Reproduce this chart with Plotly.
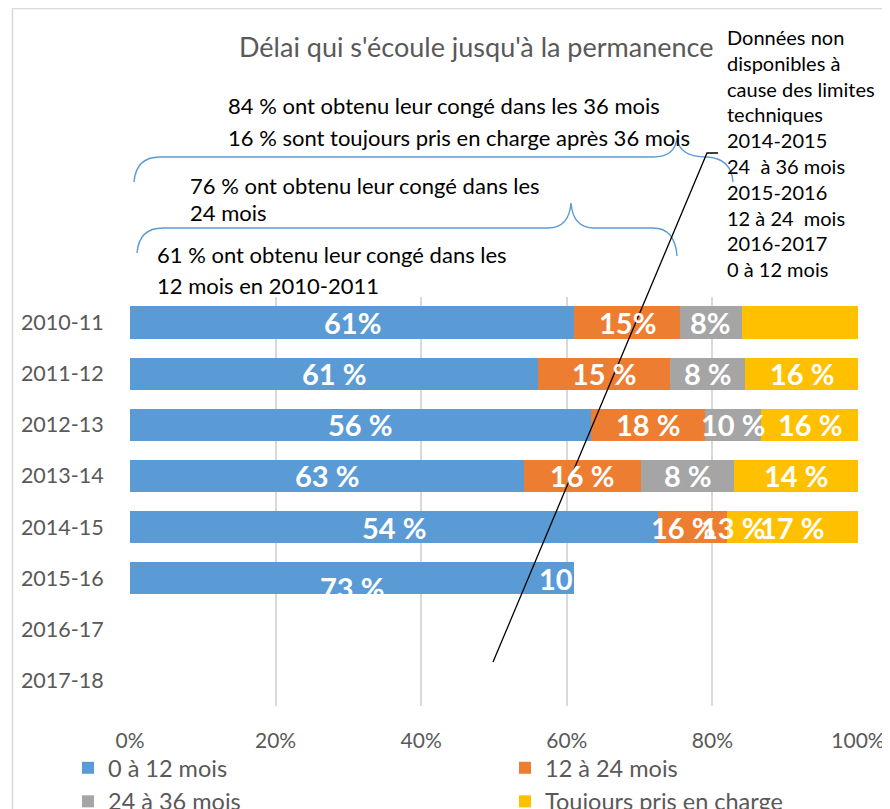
import plotly.graph_objects as go

# ---------------- data ----------------
categories = ["2010-11", "2011-12", "2012-13", "2013-14", "2014-15", "2015-16", "2016-17", "2017-18"]
series_names = ["0 à 12 mois", "12 à 24 mois", "24 à 36 mois", "Toujours pris en charge"]
v_0_12 = [61.0, 56.0, 63.3, 54.1, 72.5, 61.0, 0, 0]
v_12_24 = [14.6, 18.2, 15.7, 16.1, 9.5, 0, 0, 0]
v_24_36 = [8.4, 10.3, 7.7, 12.8, 0, 0, 0, 0]
v_toujours = [16.0, 15.5, 13.3, 17.0, 18.0, 0, 0, 0]
# data labels exactly as printed on the chart
lab_0_12 = ["61%", "61 %", "56 %", "63 %", "54 %", "73 %", "", ""]
lab_12_24 = ["15%", "15 %", "18 %", "16 %", "16 %", "10", "", ""]
lab_24_36 = ["8%", "8 %", "10 %", "8 %", "13 %", "", "", ""]
lab_toujours = ["", "16 %", "16 %", "14 %", "17 %", "", "", ""]
x_ticks = [0, 20, 40, 60, 80, 100]
x_ticktext = ["0%", "20%", "40%", "60%", "80%", "100%"]

colors = ["#5B9BD5", "#ED7D31", "#A5A5A5", "#FFC000"]
FONT = "Lato"
GRAY = "#595959"

# page geometry (the html body adds an 8 px offset)
OFF = 8
PAGE_W, PAGE_H = 890, 809
W, H = PAGE_W - OFF, PAGE_H - OFF
PLOT_L, PLOT_R, PLOT_T, PLOT_B = 130, 858, 297, 706   # plot area in page pixels
L, T = PLOT_L - OFF, PLOT_T - OFF
R, B = PAGE_W - PLOT_R, PAGE_H - PLOT_B
PW, PH = PLOT_R - PLOT_L, PLOT_B - PLOT_T


def px2x(px):
    return (px - PLOT_L) / PW


def px2y(py):
    return (PLOT_B - py) / PH


def P(x, y):
    return f"{px2x(x):.5f},{px2y(y):.5f}"


series = [v_0_12, v_12_24, v_24_36, v_toujours]
labels = [lab_0_12, lab_12_24, lab_24_36, lab_toujours]

fig = go.Figure()
for i, (name, vals) in enumerate(zip(series_names, series)):
    fig.add_trace(go.Bar(
        y=categories, x=vals, name=name, orientation="h",
        marker=dict(color=colors[i], line=dict(width=0)),
        legend="legend" if i % 2 == 0 else "legend2",
        hoverinfo="skip",
    ))

annotations = []
# data labels, centred on each segment
for r, cat in enumerate(categories):
    start = 0.0
    for s in range(4):
        val = series[s][r]
        txt = labels[s][r]
        if txt:
            a = dict(x=start + val / 2, y=r, xref="x", yref="y", text="<b>" + txt + "</b>",
                     showarrow=False, font=dict(family=FONT, size=29, color="white"),
                     xanchor="center", yanchor="middle")
            if cat == "2015-16" and s == 0:
                a["yshift"] = -9
            if cat == "2015-16" and s == 1:
                a["x"] = start
                a["xanchor"] = "right"
                a["xshift"] = 1
            if cat == "2014-15" and s == 1:
                a["xshift"] = -9
            if cat == "2014-15" and s == 2:
                a["xshift"] = 6
            annotations.append(a)
        start += val

# title
annotations.append(dict(x=px2x(476), y=px2y(47), xref="paper", yref="paper",
                        text="Délai qui s'écoule jusqu'à la permanence", showarrow=False,
                        font=dict(family=FONT, size=27, color=GRAY), xanchor="center", yanchor="middle"))

left_texts = [
    ("84 % ont obtenu leur congé dans les 36 mois", 226, 105),
    ("16 % sont toujours pris en charge après 36 mois", 226, 137),
    ("76 % ont obtenu leur congé dans les", 188, 186),
    ("24 mois", 188, 213),
    ("61 % ont obtenu leur congé dans les", 155, 254),
    ("12 mois en 2010-2011", 155, 285),
]
for txt, x, y in left_texts:
    annotations.append(dict(x=px2x(x), y=px2y(y), xref="paper", yref="paper", text=txt,
                            showarrow=False, font=dict(family=FONT, size=22, color="black"),
                            xanchor="left", yanchor="middle"))

box_lines = ["Données non", "disponibles à", "cause des limites", "techniques", "2014-2015",
             "24  à 36 mois", "2015-2016", "12 à 24  mois", "2016-2017", "0 à 12 mois"]
for k, txt in enumerate(box_lines):
    annotations.append(dict(x=px2x(725), y=px2y(37 + k * 25.8), xref="paper", yref="paper",
                            text=txt.replace("  ", "&nbsp; "), showarrow=False,
                            font=dict(family=FONT, size=20, color="black"),
                            xanchor="left", yanchor="middle"))

shapes = []
# chart area border
shapes.append(dict(type="rect", xref="paper", yref="paper", x0=px2x(12.5), y0=px2y(8.5),
                   x1=px2x(1000), y1=px2y(1000), line=dict(color="#D9D9D9", width=1.5),
                   fillcolor="rgba(0,0,0,0)", layer="below"))
# braces
brace1 = (f"M{P(134,182)} Q{P(136,157)} {P(160,157)} L{P(653,157)} Q{P(675,157)} {P(677,138)} "
          f"Q{P(679,157)} {P(707,157)} Q{P(731,158)} {P(733,182)}")
brace2 = (f"M{P(137,253)} Q{P(139,228)} {P(163,228)} L{P(548,228)} Q{P(569,228)} {P(571,203)} "
          f"Q{P(573,228)} {P(594,228)} L{P(653,228)} Q{P(675,228)} {P(677,256)}")
for pth in (brace1, brace2):
    shapes.append(dict(type="path", path=pth, xref="paper", yref="paper",
                       line=dict(color="#5B9BD5", width=1.4)))
# pointer line
shapes.append(dict(type="path", path=f"M{P(493,662)} L{P(707,153)} L{P(718,153)}",
                   xref="paper", yref="paper", line=dict(color="black", width=1.3)))

fig.update_layout(
    width=W, height=H,
    margin=dict(l=L, r=R, t=T, b=B, pad=0, autoexpand=False),
    barmode="stack", bargap=0.37,
    plot_bgcolor="white", paper_bgcolor="white",
    font=dict(family=FONT, color=GRAY),
    xaxis=dict(type="linear", range=[0, 100], tickmode="array", tickvals=x_ticks, ticktext=x_ticktext,
               showgrid=True, gridcolor="#D9D9D9", gridwidth=1.5, zeroline=False, showline=False,
               tickfont=dict(family=FONT, size=21, color=GRAY), ticks="outside", ticklen=16,
               tickcolor="rgba(0,0,0,0)", fixedrange=True),
    yaxis=dict(type="category", categoryorder="array", categoryarray=categories, range=[7.5, -0.5],
               showgrid=False, zeroline=False, showline=False, ticks="outside", ticklen=21,
               tickcolor="rgba(0,0,0,0)",
               tickfont=dict(family=FONT, size=21.5, color=GRAY)),
    legend=dict(x=px2x(68), y=px2y(746), xanchor="left", yanchor="top", orientation="v",
                traceorder="normal", font=dict(family=FONT, size=23.5, color=GRAY),
                bgcolor="rgba(0,0,0,0)", tracegroupgap=0),
    legend2=dict(x=px2x(505), y=px2y(746), xanchor="left", yanchor="top", orientation="v",
                 traceorder="normal", font=dict(family=FONT, size=23.5, color=GRAY),
                 bgcolor="rgba(0,0,0,0)", tracegroupgap=0),
    annotations=annotations,
    shapes=shapes,
    showlegend=True,
)

fig.write_html("out.html")
